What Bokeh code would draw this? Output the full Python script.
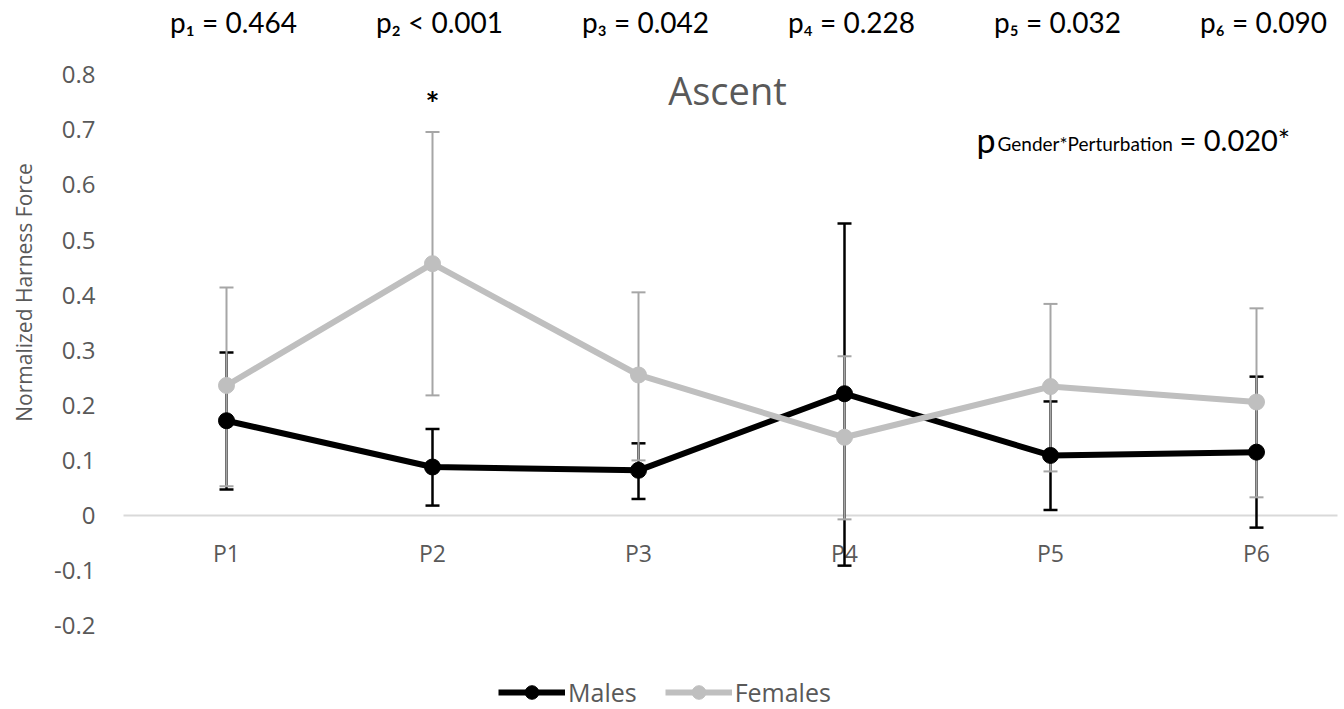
import math
from bokeh.plotting import figure
from bokeh.models import (Range1d, FixedTicker, LinearAxis, Label, LabelSet, ColumnDataSource,
                          Legend, LegendItem)
from bokeh.embed import file_html
from bokeh.resources import INLINE
from bokeh.core.properties import value

# ---------------- data ----------------
categories = ["P1", "P2", "P3", "P4", "P5", "P6"]
males_mean = [0.172, 0.088, 0.082, 0.221, 0.109, 0.115]
males_upper = [0.296, 0.157, 0.131, 0.530, 0.207, 0.252]
males_lower = [0.047, 0.018, 0.030, -0.091, 0.010, -0.022]
females_mean = [0.236, 0.457, 0.255, 0.142, 0.234, 0.206]
females_upper = [0.414, 0.696, 0.405, 0.289, 0.384, 0.376]
females_lower = [0.053, 0.218, 0.100, -0.007, 0.080, 0.033]
p_labels = ["p\u2081 = 0.464", "p\u2082 < 0.001", "p\u2083 = 0.042",
            "p\u2084 = 0.228", "p\u2085 = 0.032", "p\u2086 = 0.090"]
y_ticks = [-0.2, -0.1, 0, 0.1, 0.2, 0.3, 0.4, 0.5, 0.6, 0.7, 0.8]
y_tick_labels = ["-0.2", "-0.1", "0", "0.1", "0.2", "0.3", "0.4", "0.5", "0.6", "0.7", "0.8"]
series_names = ["Males", "Females"]

AX_FONT = "Open Sans"
TXT_FONT = "Lato"
GRAY_TXT = "#595959"
BLACK = "#000000"
GRAY_LINE = "#BFBFBF"
GRAY_ERR = "#A6A6A6"

x = [i + 1 for i in range(len(categories))]

# helpers: reference-image pixel -> data coordinate (annotation placement only)
def ax(px):
    return 0.5 + (px - 123) / 206.0

def ay(py):
    return (515 - py) / 551.0

W, H = 1344, 709
p = figure(width=W, height=H, output_backend="svg", toolbar_location=None,
           x_range=Range1d(ax(0), ax(W)), y_range=Range1d(ay(H), ay(0)),
           x_axis_type=None, y_axis_type=None,
           min_border_left=0, min_border_right=0, min_border_top=0, min_border_bottom=0)
p.outline_line_color = None
p.background_fill_color = "white"
p.border_fill_color = "white"

yax = LinearAxis(fixed_location=0.5, bounds=(-0.2, 0.8), ticker=FixedTicker(ticks=y_ticks))
yax.major_label_overrides = {t: l for t, l in zip(y_ticks, y_tick_labels)}
yax.axis_line_color = None
yax.major_tick_line_color = None
yax.minor_tick_line_color = None
yax.major_tick_out = 0
yax.major_tick_in = 0
yax.major_label_standoff = 28
yax.major_label_text_font = AX_FONT
yax.major_label_text_font_size = "24px"
yax.major_label_text_color = GRAY_TXT
p.add_layout(yax, "left")

xax = LinearAxis(fixed_location=0, bounds=(0.5, ax(1337)), ticker=FixedTicker(ticks=x))
xax.major_label_overrides = {i: c for i, c in zip(x, categories)}
xax.axis_line_color = "#D9D9D9"
xax.axis_line_width = 2
xax.major_tick_line_color = None
xax.minor_tick_line_color = None
xax.major_tick_out = 0
xax.major_tick_in = 0
xax.major_label_standoff = 21
xax.major_label_text_font = AX_FONT
xax.major_label_text_font_size = "23px"
xax.major_label_text_color = GRAY_TXT
xax.level = "underlay"
p.add_layout(xax, "below")

src_m = ColumnDataSource(dict(x=x, y=males_mean, up=males_upper, lo=males_lower))
src_f = ColumnDataSource(dict(x=x, y=females_mean, up=females_upper, lo=females_lower))

# error bars
for src, col, lw in ((src_m, BLACK, 2.5), (src_f, GRAY_ERR, 2)):
    p.segment(x0="x", y0="lo", x1="x", y1="up", source=src, line_color=col, line_width=lw)
    p.scatter(x="x", y="up", source=src, marker="dash", size=14, line_color=col, line_width=lw)
    p.scatter(x="x", y="lo", source=src, marker="dash", size=14, line_color=col, line_width=lw)

m_line = p.line(x="x", y="y", source=src_m, line_color=BLACK, line_width=6)
m_pts = p.scatter(x="x", y="y", source=src_m, marker="circle", size=16,
                  fill_color=BLACK, line_color=BLACK)
f_line = p.line(x="x", y="y", source=src_f, line_color=GRAY_LINE, line_width=6)
f_pts = p.scatter(x="x", y="y", source=src_f, marker="circle", size=16,
                  fill_color=GRAY_LINE, line_color=GRAY_LINE)

# top p-values
src_p = ColumnDataSource(dict(x=x, y=[ay(21)] * len(x), t=p_labels))
p.add_layout(LabelSet(x="x", y="y", text="t", source=src_p, x_offset=7,
                      text_font=value(TXT_FONT), text_font_size="28px", text_color=BLACK,
                      text_align="center", text_baseline="middle"))

# star over P2
p.add_layout(Label(x=categories.index("P2") + 1, y=ay(102), text="*",
                   text_font=TXT_FONT, text_font_size="33px", text_font_style="bold",
                   text_color=BLACK, text_align="center", text_baseline="alphabetic"))

# title
p.add_layout(Label(x=ax(727), y=ay(89), text="Ascent", text_font=AX_FONT,
                   text_font_size="38px", text_color=GRAY_TXT, text_align="center",
                   text_baseline="middle"))

# interaction p-value
p.add_layout(Label(x=ax(976), y=ay(139), text="p", text_font=TXT_FONT, text_font_size="34px",
                   text_color=BLACK, text_align="left", text_baseline="alphabetic"))
p.add_layout(Label(x=ax(997), y=ay(143), text="Gender*Perturbation", text_font=TXT_FONT,
                   text_font_size="19px", text_color=BLACK, text_align="left",
                   text_baseline="alphabetic"))
p.add_layout(Label(x=ax(1179), y=ay(139), text="= 0.020*", text_font=TXT_FONT,
                   text_font_size="29px", text_color=BLACK, text_align="left",
                   text_baseline="alphabetic"))

# y-axis title
p.add_layout(Label(x=ax(23), y=ay(292), text="Normalized Harness Force", angle=math.pi / 2,
                   text_font=AX_FONT, text_font_size="21px", text_color=GRAY_TXT,
                   text_align="center", text_baseline="middle"))

legend = Legend(items=[LegendItem(label=series_names[0], renderers=[m_line, m_pts]),
                       LegendItem(label=series_names[1], renderers=[f_line, f_pts])],
                orientation="horizontal", location=(498, 0),
                glyph_width=67, glyph_height=34, label_standoff=3, spacing=28,
                padding=0, margin=0, border_line_color=None, background_fill_alpha=0,
                label_text_font=AX_FONT, label_text_font_size="25px",
                label_text_color=GRAY_TXT)
p.add_layout(legend, "center")

open("out.html", "w").write(file_html(p, INLINE))
